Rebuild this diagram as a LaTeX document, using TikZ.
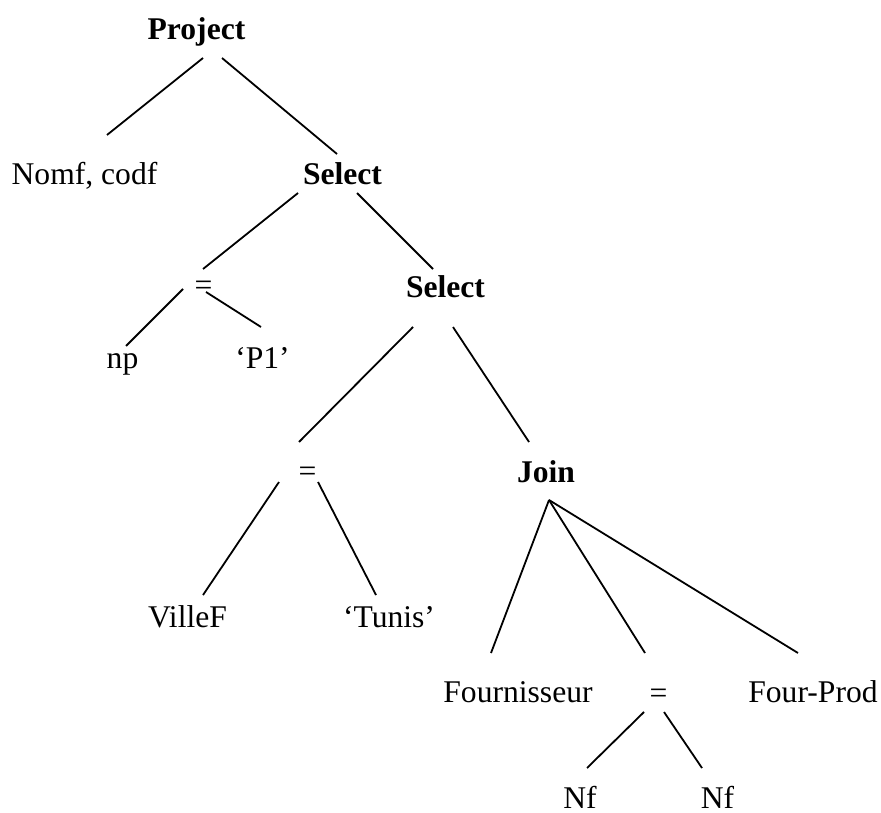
\documentclass[tikz,border=0pt]{standalone}
\usepackage{fontspec}
\setmainfont{Liberation Serif}
\tikzset{
  op/.style={anchor=base, inner sep=0pt, font=\fontsize{15.8}{19}\selectfont\bfseries},
  leaf/.style={anchor=base, inner sep=0pt, font=\fontsize{15.8}{19}\selectfont},
  edge/.style={line width=0.9pt},
}

\begin{document}
\begin{tikzpicture}[x=0.5pt, y=-0.5pt]
  \useasboundingbox (0,0) rectangle (881,812);

  % Operators
  \node[op] (project) at (196.5,40) {Project};
  \node[op] (select1) at (342.5,185) {Select};
  \node[op] (select2) at (445.5,297) {Select};
  \node[op] (join) at (546,482) {Join};

  % Conditions
  \node[leaf] (eq1) at (203.5,295) {=};
  \node[leaf] (eq2) at (307.5,481) {=};
  \node[leaf] (eq3) at (658.5,703) {=};

  % Leaves
  \node[leaf] (nomcod) at (84.5,185) {Nomf, codf};
  \node[leaf] (np) at (122.5,368) {np};
  \node[leaf] (p1) at (262.5,368) {`P1'};
  \node[leaf] (ville) at (187.5,627) {VilleF};
  \node[leaf] (tunis) at (389,627) {`Tunis'};
  \node[leaf] (fourn) at (518,702) {Fournisseur};
  \node[leaf] (fourprod) at (813,702) {Four-Prod};
  \node[leaf] (nf1) at (580,808) {Nf};
  \node[leaf] (nf2) at (717.5,808) {Nf};

  % End points of the branches
  \coordinate (project-l) at (203,58);
  \coordinate (project-r) at (222,58);
  \coordinate (nomcod-t) at (107,135);
  \coordinate (select1-t) at (337,154);
  \coordinate (select1-l) at (298,193);
  \coordinate (select1-r) at (357,193);
  \coordinate (eq1-t) at (203,269);
  \coordinate (select2-t) at (433,269);
  \coordinate (eq1-l) at (183,289);
  \coordinate (eq1-r) at (206,292);
  \coordinate (np-t) at (126,346);
  \coordinate (p1-t) at (261,327);
  \coordinate (select2-l) at (413,327);
  \coordinate (select2-r) at (453,327);
  \coordinate (eq2-t) at (299,442);
  \coordinate (join-t) at (529,442);
  \coordinate (eq2-l) at (279,482);
  \coordinate (eq2-r) at (318,482);
  \coordinate (ville-t) at (203,595);
  \coordinate (tunis-t) at (376,595);
  \coordinate (join-b) at (549,500);
  \coordinate (fourn-t) at (491,653);
  \coordinate (eq3-t) at (645,653);
  \coordinate (fourprod-t) at (798,653);
  \coordinate (eq3-l) at (644,712);
  \coordinate (eq3-r) at (664,712);
  \coordinate (nf1-t) at (587,768);
  \coordinate (nf2-t) at (702,768);

  % Branches
  \draw[edge] (project-l) -- (nomcod-t);
  \draw[edge] (project-r) -- (select1-t);
  \draw[edge] (select1-l) -- (eq1-t);
  \draw[edge] (select1-r) -- (select2-t);
  \draw[edge] (eq1-l) -- (np-t);
  \draw[edge] (eq1-r) -- (p1-t);
  \draw[edge] (select2-l) -- (eq2-t);
  \draw[edge] (select2-r) -- (join-t);
  \draw[edge] (eq2-l) -- (ville-t);
  \draw[edge] (eq2-r) -- (tunis-t);
  \draw[edge] (join-b) -- (fourn-t);
  \draw[edge] (join-b) -- (eq3-t);
  \draw[edge] (join-b) -- (fourprod-t);
  \draw[edge] (eq3-l) -- (nf1-t);
  \draw[edge] (eq3-r) -- (nf2-t);
\end{tikzpicture}
\end{document}
